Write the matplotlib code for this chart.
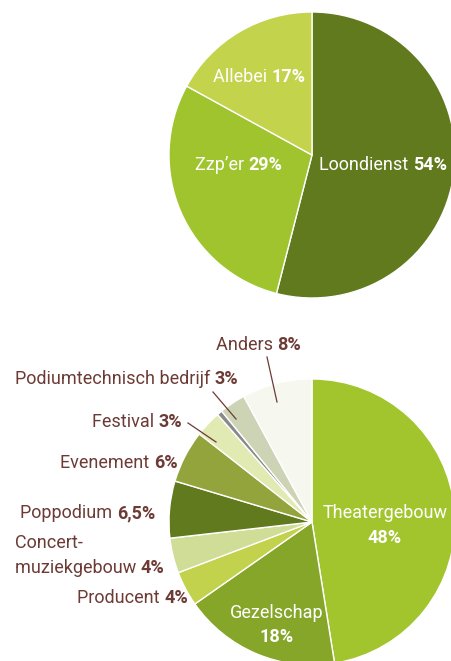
from matplotlib import pyplot as plt

# top pie: employment type
top_labels = ['Loondienst', "Zzp\u2019er", 'Allebei']
top_values = [54, 29, 17]
top_colors = ['#627a1e', '#a0c42e', '#c3d34c']

# bottom pie: type of employer (grey sliver is unlabeled)
bot_labels = ['Theatergebouw', 'Gezelschap', 'Producent', 'Concert-\nmuziekgebouw',
              'Poppodium', 'Evenement', 'Festival', '', 'Podiumtechnisch bedrijf', 'Anders']
bot_values = [48, 18, 4, 4, 6.5, 6, 3, 0.6, 3, 8]
bot_pct = ['48%', '18%', '4%', '4%', '6,5%', '6%', '3%', '', '3%', '8%']
bot_colors = ['#a2c52e', '#86a62a', '#c2d24c', '#cfdd96', '#627a1e',
              '#94a43c', '#e2eab4', '#8a8a8a', '#cdd3b5', '#f6f7ee']

W, H = 451, 661
brown = '#6d3b35'
plt.rcParams['font.family'] = ['Roboto', 'DejaVu Sans']

fig = plt.figure(figsize=(W / 100, H / 100), dpi=100)


def pie_axes(cx, cy, r):
    return fig.add_axes([(cx - r) / W, 1 - (cy + r) / H, 2 * r / W, 2 * r / H])


def fx(x):
    return x / W


def fy(y):
    return 1 - y / H


ax1 = pie_axes(312, 155, 143)
ax1.pie(top_values, colors=top_colors, startangle=90, counterclock=False,
        wedgeprops=dict(edgecolor='white', linewidth=1), radius=1)
ax1.set_xlim(-1, 1)
ax1.set_ylim(-1, 1)
ax1.axis('off')

ax2 = pie_axes(312, 522, 143)
ax2.pie(bot_values, colors=bot_colors, startangle=90, counterclock=False,
        wedgeprops=dict(edgecolor='white', linewidth=1), radius=1)
ax2.set_xlim(-1, 1)
ax2.set_ylim(-1, 1)
ax2.axis('off')

renderer = fig.canvas.get_renderer()
fs = 13


def two_part(x, y, name, pct, color):
    t = fig.text(fx(x), fy(y), name + ' ', color=color, fontsize=fs,
                 ha='left', va='center')
    bb = t.get_window_extent(renderer)
    fig.text(bb.x1 / W, fy(y), pct, color=color, fontsize=fs,
             fontweight='bold', ha='left', va='center')


# top labels
two_part(213, 77, top_labels[2], '17%', 'white')
two_part(195, 165, top_labels[1], '29%', 'white')
two_part(319, 165, top_labels[0], '54%', 'white')

# bottom labels left of the pie
two_part(216, 345, bot_labels[9], bot_pct[9], brown)
two_part(15, 379, bot_labels[8], bot_pct[8], brown)
two_part(92, 422, bot_labels[6], bot_pct[6], brown)
two_part(60, 463, bot_labels[5], bot_pct[5], brown)
two_part(20, 513, bot_labels[4], bot_pct[4], brown)
fig.text(fx(15), fy(543), bot_labels[3].split('\n')[0], color=brown,
         fontsize=fs, ha='left', va='center')
two_part(15, 568, bot_labels[3].split('\n')[1], bot_pct[3], brown)
two_part(77, 598, bot_labels[2], bot_pct[2], brown)

# inside labels
fig.text(fx(385), fy(513), bot_labels[0], color='white', fontsize=fs,
         ha='center', va='center')
fig.text(fx(385), fy(538), bot_pct[0], color='white', fontsize=fs,
         fontweight='bold', ha='center', va='center')
fig.text(fx(277), fy(613), bot_labels[1], color='white', fontsize=fs,
         ha='center', va='center')
fig.text(fx(277), fy(637), bot_pct[1], color='white', fontsize=fs,
         fontweight='bold', ha='center', va='center')

# leader lines
for (x0, y0, x1, y1) in [(267, 357, 277, 402), (213, 392, 236, 419), (188, 423, 216, 442)]:
    fig.add_artist(plt.Line2D([fx(x0), fx(x1)], [fy(y0), fy(y1)],
                              color=brown, linewidth=0.9))

fig.savefig('out.png', dpi=100)
